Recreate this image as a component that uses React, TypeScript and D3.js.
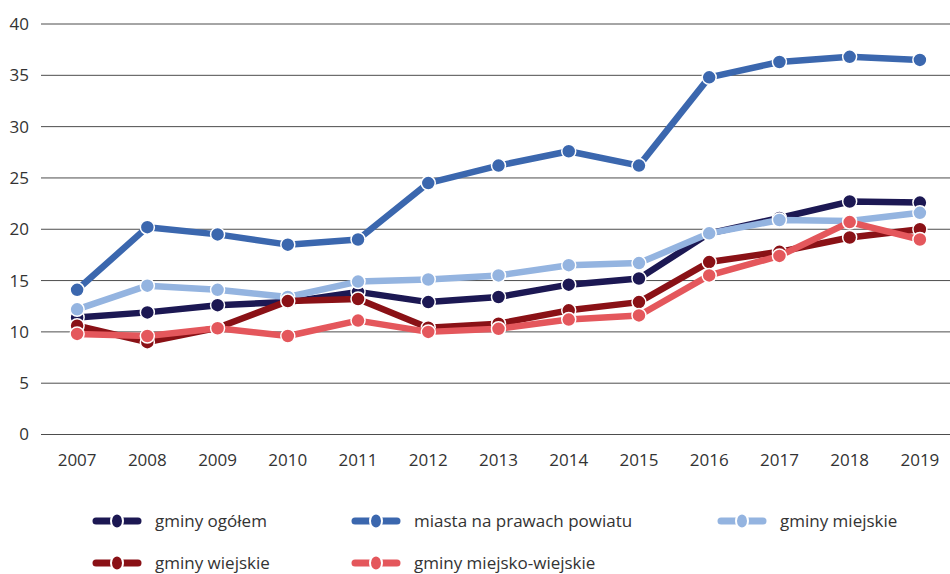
import React from 'react'
import * as d3 from 'd3'

const years = ['2007', '2008', '2009', '2010', '2011', '2012', '2013', '2014', '2015', '2016', '2017', '2018', '2019']
const yTicks = [0, 5, 10, 15, 20, 25, 30, 35, 40]

const seriesNames = ['gminy ogółem', 'miasta na prawach powiatu', 'gminy miejskie', 'gminy wiejskie', 'gminy miejsko-wiejskie']
const seriesColors = ['#1c1853', '#3b67ae', '#94b4e0', '#8a1116', '#e4575c']

const gminyOgolem = [11.4, 11.9, 12.6, 12.9, 13.9, 12.9, 13.4, 14.6, 15.2, 19.6, 21.1, 22.7, 22.6]
const miastaNaPrawachPowiatu = [14.1, 20.2, 19.5, 18.5, 19.0, 24.5, 26.2, 27.6, 26.2, 34.8, 36.3, 36.8, 36.5]
const gminyMiejskie = [12.2, 14.5, 14.1, 13.4, 14.9, 15.1, 15.5, 16.5, 16.7, 19.6, 20.9, 20.8, 21.6]
const gminyWiejskie = [10.6, 9.0, 10.4, 13.0, 13.2, 10.4, 10.8, 12.1, 12.9, 16.8, 17.8, 19.2, 20.0]
const gminyMiejskoWiejskie = [9.8, 9.6, 10.35, 9.6, 11.1, 10.0, 10.3, 11.2, 11.6, 15.5, 17.4, 20.7, 19.0]

const seriesValues = [gminyOgolem, miastaNaPrawachPowiatu, gminyMiejskie, gminyWiejskie, gminyMiejskoWiejskie]

const W = 950
const H = 574
const font = '"Open Sans", "Noto Sans", sans-serif'

export default function App() {
    const x = d3.scaleBand<string>()
        .domain(years)
        .range([42, 955])
    const xc = (yr: string) => (x(yr) as number) + x.bandwidth() / 2

    const y = d3.scaleLinear()
        .domain([0, 40])
        .range([434.5, 24])

    const line = d3.line<number>()
        .x((d, i) => xc(years[i]))
        .y(d => y(d))

    // legend layout
    const legendCols = [93, 352, 718]
    const legendRows = [521, 563]

    return (
        <svg width={W} height={H} style={{ position: 'absolute', left: 0, top: 0, fontFamily: font }}>
            <rect width={W} height={H} fill="#fff" />
            {yTicks.map(t => (
                <g key={t}>
                    <line x1={41} x2={W} y1={y(t)} y2={y(t)} stroke="#4d4d4d" strokeWidth={1} />
                    <text x={29} y={y(t)} dy="0.35em" textAnchor="end" fontSize={17} fill="#333">{t}</text>
                </g>
            ))}
            {years.map(yr => (
                <text key={yr} x={xc(yr)} y={466} textAnchor="middle" fontSize={17} fill="#333">{yr}</text>
            ))}
            {seriesValues.map((vals, si) => (
                <g key={si}>
                    <path d={line(vals) || ''} fill="none" stroke={seriesColors[si]} strokeWidth={6.5} strokeLinejoin="round" />
                    {vals.map((v, i) => (
                        <circle key={i} cx={xc(years[i])} cy={y(v)} r={7} fill={seriesColors[si]} stroke="#fff" strokeWidth={1.5} />
                    ))}
                </g>
            ))}
            {seriesNames.map((name, i) => {
                const lx = legendCols[i % 3]
                const ly = legendRows[Math.floor(i / 3)]
                return (
                    <g key={name}>
                        <line x1={lx + 3} x2={lx + 45} y1={ly} y2={ly} stroke={seriesColors[i]} strokeWidth={7} strokeLinecap="round" />
                        <ellipse cx={lx + 24} cy={ly} rx={6} ry={7.5} fill={seriesColors[i]} stroke="#fff" strokeWidth={2} />
                        <text x={lx + 62} y={ly} dy="0.35em" fontSize={17} fill="#333">{name}</text>
                    </g>
                )
            })}
        </svg>
    )
}
